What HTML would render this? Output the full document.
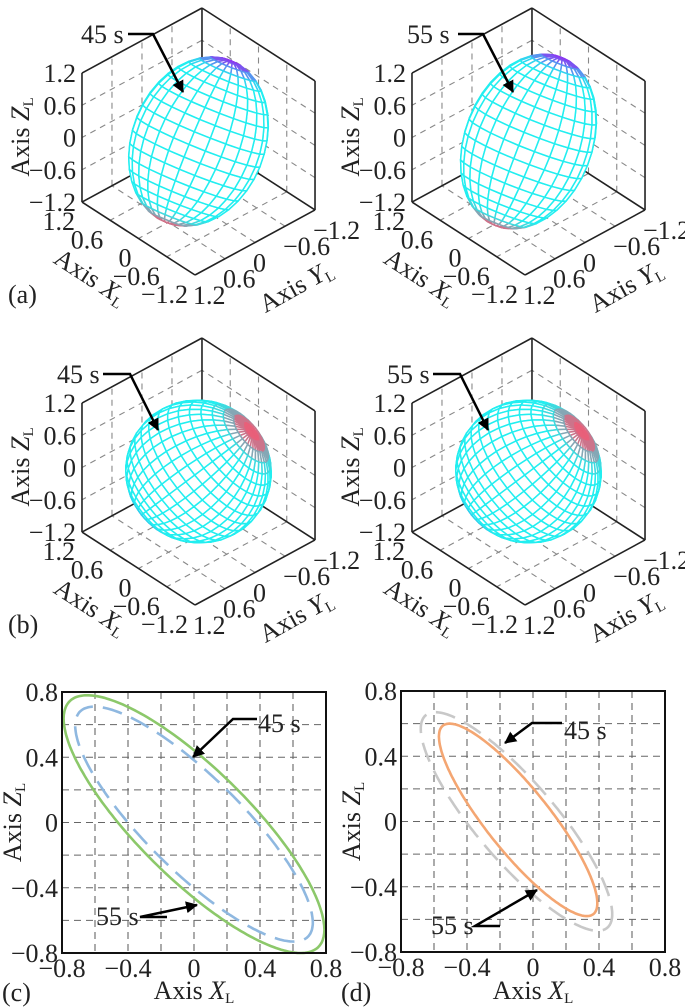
<!DOCTYPE html>
<html><head><meta charset="utf-8">
<style>
html,body{margin:0;padding:0;background:#fff;}
svg{display:block;font-family:"Liberation Serif","Times New Roman",serif;}
</style></head>
<body>
<svg id="fig" width="685" height="1008" viewBox="0 0 685 1008" xmlns="http://www.w3.org/2000/svg"></svg>
<script>
// ---- 3D panel data ----
const panelLabels3d = ['(a)', '', '(b)', ''];
const panelTimes3d = ['45 s', '55 s', '45 s', '55 s'];
const panelOffX = [0, 330, 0, 330];
const panelOffY = [0, 0, 330, 330];
const axisDirX = [0.1, 0.1, -0.5, -0.5];
const axisDirY = [-0.6, -0.6, -0.6, -0.6];
const axisDirZ = [0.8, 0.84, 0.73, 0.73];
const semiPolar = [1.3, 1.35, 1.06, 1.06];
const semiEquat = [0.97, 0.93, 1.06, 1.06];
const poleColorPos = ['#8a3cf0', '#8a3cf0', '#e8607a', '#e8607a'];
const poleColorNeg = ['#e8607a', '#e8607a', '#4a5ae0', '#4a5ae0'];
const tickVals3d = [1.2, 0.6, 0, -0.6, -1.2];
const tickText3d = ['1.2', '0.6', '0', '\u22120.6', '\u22121.2'];
// ---- 2D panel data ----
const ticks2d = [-0.8, -0.4, 0, 0.4, 0.8];
const tickText2d = ['\u22120.8', '\u22120.4', '0', '0.4', '0.8'];
const gridVals2d = [-0.6, -0.4, -0.2, 0, 0.2, 0.4, 0.6];
// ellipses: x = cx + wx cos t ; z = cz + wz cos(t + phi)
const ellPanel = [0, 0, 1, 1];
const ellCx = [0, 0, -0.1, -0.09];
const ellCz = [-0.01, -0.01, 0.0, 0.01];
const ellWx = [0.79, 0.72, 0.58, 0.48];
const ellWz = [0.79, 0.72, 0.67, 0.59];
const ellPhiDeg = [145, 147, 148, 150];
const ellColor = ['#8cc86a', '#8fb8e0', '#c8c8c8', '#f4a672'];
const ellDash = ['', '20 10', '20 10', ''];

const NS = 'http://www.w3.org/2000/svg';
const svg = document.getElementById('fig');
function mk(tag, attrs, parent) {
  const e = document.createElementNS(NS, tag);
  for (const k in attrs) e.setAttribute(k, attrs[k]);
  (parent || svg).appendChild(e);
  return e;
}
function label(parent, x, y, main, sub, opts) {
  const t = mk('text', Object.assign({x: x, y: y, 'font-size': 26, fill: '#222'}, opts || {}), parent);
  t.appendChild(document.createTextNode(main));
  if (sub) {
    const it = mk('tspan', {'font-style': 'italic'}, t); it.textContent = sub[0];
    const s = mk('tspan', {'font-size': 15, dy: 4}, t); s.textContent = 'L';
  }
  return t;
}
function mix(c1, c2, f) {
  const a = [1,3,5].map(i => parseInt(c1.substr(i,2),16));
  const b = [1,3,5].map(i => parseInt(c2.substr(i,2),16));
  return 'rgb(' + a.map((v,i) => Math.round(v + (b[i]-v)*f)).join(',') + ')';
}
(function arrowDef() {
  const defs = mk('defs', {});
  const m = mk('marker', {id: 'ah', markerWidth: 12, markerHeight: 12, refX: 11, refY: 6, orient: 'auto', markerUnits: 'userSpaceOnUse'}, defs);
  mk('path', {d: 'M0,0 L12,6 L0,12 Z', fill: '#000'}, m);
})();

function draw3d(i) {
  const ox = panelOffX[i], oy = panelOffY[i];
  const g = mk('g', {});
  
  
  const P = (x, y, z) => [ox + 198.5 - 47.1 * x - 50 * y, oy + 141.5 - 30.4 * x + 27.1 * y - 53.75 * z];
  const line = (a, b, attrs) => mk('line', Object.assign({x1: a[0], y1: a[1], x2: b[0], y2: b[1]}, attrs), g);
  const gridA = {stroke: '#888', 'stroke-width': 1.1, 'stroke-dasharray': '6 5'};
  [-0.6, 0, 0.6].forEach(v => {
    line(P(1.2, v, -1.2), P(1.2, v, 1.2), gridA);
    line(P(1.2, -1.2, v), P(1.2, 1.2, v), gridA);
    line(P(v, -1.2, -1.2), P(v, -1.2, 1.2), gridA);
    line(P(-1.2, -1.2, v), P(1.2, -1.2, v), gridA);
    line(P(v, -1.2, -1.2), P(v, 1.2, -1.2), gridA);
    line(P(-1.2, v, -1.2), P(1.2, v, -1.2), gridA);
  });
  const sol = {stroke: '#222', 'stroke-width': 1.6};
  line(P(1.2, 1.2, 1.2), P(1.2, -1.2, 1.2), sol);
  line(P(1.2, -1.2, 1.2), P(-1.2, -1.2, 1.2), sol);
  line(P(1.2, 1.2, -1.2), P(1.2, 1.2, 1.2), sol);
  line(P(-1.2, -1.2, -1.2), P(-1.2, -1.2, 1.2), sol);
  line(P(1.2, -1.2, -1.2), P(1.2, -1.2, 1.2), sol);
  line(P(1.2, 1.2, -1.2), P(1.2, -1.2, -1.2), sol);
  line(P(1.2, -1.2, -1.2), P(-1.2, -1.2, -1.2), sol);
  line(P(1.2, 1.2, -1.2), P(-1.2, 1.2, -1.2), sol);
  line(P(-1.2, 1.2, -1.2), P(-1.2, -1.2, -1.2), sol);
  // ellipsoid
  let u = [axisDirX[i], axisDirY[i], axisDirZ[i]];
  const L = Math.hypot(u[0], u[1], u[2]); u = u.map(v => v / L);
  let t = Math.abs(u[0]) < 0.9 ? [1, 0, 0] : [0, 1, 0];
  const dot = (a, b) => a[0]*b[0] + a[1]*b[1] + a[2]*b[2];
  let e1 = t.map((v, k) => v - dot(t, u) * u[k]);
  const l1 = Math.hypot(e1[0], e1[1], e1[2]); e1 = e1.map(v => v / l1);
  const e2 = [u[1]*e1[2] - u[2]*e1[1], u[2]*e1[0] - u[0]*e1[2], u[0]*e1[1] - u[1]*e1[0]];
  const c = semiPolar[i], r = semiEquat[i];
  const nLat = 20, nLon = i >= 2 ? 36 : 24;
  const pt = (la, lo) => {
    const s = Math.sin(la), co = Math.cos(la);
    return [0, 1, 2].map(k => u[k] * c * s + r * co * (Math.cos(lo) * e1[k] + Math.sin(lo) * e2[k]));
  };
  const w = [-0.56, 0.53, 0.59];
  const quads = [];
  for (let a = 0; a < nLat; a++) {
    const la0 = -Math.PI / 2 + Math.PI * a / nLat, la1 = -Math.PI / 2 + Math.PI * (a + 1) / nLat;
    for (let b = 0; b < nLon; b++) {
      const lo0 = 2 * Math.PI * b / nLon, lo1 = 2 * Math.PI * (b + 1) / nLon;
      const ps = [pt(la0, lo0), pt(la0, lo1), pt(la1, lo1), pt(la1, lo0)];
      const cen = [0, 1, 2].map(k => (ps[0][k] + ps[1][k] + ps[2][k] + ps[3][k]) / 4);
      quads.push({ps: ps, d: dot(cen, w), lat: (la0 + la1) / 2});
    }
  }
  quads.sort((p, q) => p.d - q.d);
  const eg = mk('g', {}, g);
  
  
  quads.forEach(q => {
    const deg = q.lat * 180 / Math.PI;
    let col = '#22eef0';
    if (deg > 55) col = mix('#22eef0', poleColorPos[i], Math.min(1, (deg - 55) / 25));
    if (deg < -55) col = mix('#22eef0', poleColorNeg[i], Math.min(1, (-deg - 55) / 25));
    const pts = q.ps.map(p => P(p[0], p[1], p[2]).map(v => v.toFixed(1)).join(',')).join(' ');
    mk('polygon', {points: pts, fill: '#fff', stroke: col, 'stroke-width': 1.5, 'stroke-linejoin': 'round'}, eg);
  });
  tickVals3d.forEach((v, k) => {
    const pz = P(1.2, 1.2, v);
    const tz = label(g, pz[0] - 6, pz[1] + 9, tickText3d[k], null, {'text-anchor': 'end'});
    
    
    const px = P(v, 1.2, -1.2);
    const tx = label(g, px[0] - 7, px[1] + 28, tickText3d[k], null, {'text-anchor': 'end'});
    
    
    const py = P(-1.2, v, -1.2);
    const ty = label(g, py[0] - 2, py[1] + 29, tickText3d[k], null, {'text-anchor': 'start'});
    
    
  });
  const az = label(g, 0, 0, 'Axis ', 'Z', {'text-anchor': 'middle', transform: 'translate(' + (ox + 29) + ',' + (oy + 137) + ') rotate(-90)'});
  
  
  const ax = label(g, 0, 0, 'Axis ', 'X', {'text-anchor': 'middle', transform: 'translate(' + (ox + 86) + ',' + (oy + 284) + ') rotate(33)'});
  
  
  const ay = label(g, 0, 0, 'Axis ', 'Y', {'text-anchor': 'middle', transform: 'translate(' + (ox + 300) + ',' + (oy + 294) + ') rotate(-29)'});
  
  
  if (panelLabels3d[i]) {
    const pl = label(g, ox + 8, oy + 303, panelLabels3d[i], null, {});
    
    
  }
  const row = i >= 2;
  const tx0 = row ? 57 : 81, tby = row ? 53 : 43;
  const lx0 = row ? 103 : 128, lx1 = row ? 130 : 153, ly = row ? 44 : 34;
  const tipx = row ? 158 : 183, tipy = row ? 100 : 92;
  const at = label(g, ox + tx0 + (i === 1 ? -4 : 0), oy + tby, panelTimes3d[i], null, {});
  
  
  const ap = mk('polyline', {points: (ox+lx0)+','+(oy+ly)+' '+(ox+lx1)+','+(oy+ly)+' '+(ox+tipx)+','+(oy+tipy), fill: 'none', stroke: '#000', 'stroke-width': 2.5, 'marker-end': 'url(#ah)'}, g);
  
  
}
for (let i = 0; i < 4; i++) draw3d(i);

// ---- 2D panels ----
const boxL = [62, 401], boxR = [326, 665], boxT = [692, 691], boxB = [953, 952];
const panelLabels2d = ['(c)', '(d)'];
const ann45 = [[258, 732, 233, 257, 719, 193, 757], [564, 739, 532, 562, 723, 505, 743]];
const ann55 = [[96, 925, 140, 167, 917, 197, 905], [431, 934, 475, 500, 926, 537, 890]];
function draw2d(p) {
  const g = mk('g', {});
  
  
  const L = boxL[p], R = boxR[p], T = boxT[p], B = boxB[p];
  const sx = v => L + (v + 0.8) / 1.6 * (R - L);
  const sy = v => B - (v + 0.8) / 1.6 * (B - T);
  gridVals2d.forEach(v => {
    mk('line', {x1: sx(v), y1: T, x2: sx(v), y2: B, stroke: '#666', 'stroke-width': 1.1, 'stroke-dasharray': '7 5'}, g);
    mk('line', {x1: L, y1: sy(v), x2: R, y2: sy(v), stroke: '#666', 'stroke-width': 1.1, 'stroke-dasharray': '7 5'}, g);
  });
  for (let e = 0; e < ellCx.length; e++) {
    if (ellPanel[e] !== p) continue;
    const ph = ellPhiDeg[e] * Math.PI / 180;
    const pts = [];
    for (let k = 0; k <= 240; k++) {
      const t = 2 * Math.PI * k / 240;
      pts.push(sx(ellCx[e] + ellWx[e] * Math.cos(t)).toFixed(1) + ',' + sy(ellCz[e] + ellWz[e] * Math.cos(t + ph)).toFixed(1));
    }
    const pl = mk('polyline', {points: pts.join(' '), fill: 'none', stroke: ellColor[e], 'stroke-width': 2.6}, g);
    if (ellDash[e]) pl.setAttribute('stroke-dasharray', ellDash[e]);
    
    
  }
  mk('rect', {x: L, y: T, width: R - L, height: B - T, fill: 'none', stroke: '#111', 'stroke-width': 2}, g);
  ticks2d.forEach((v, k) => {
    const tx = label(g, sx(v), B + 24, tickText2d[k], null, {'text-anchor': 'middle'});
    
    
    const ty = label(g, L - 4, sy(v) + 9, tickText2d[k], null, {'text-anchor': 'end'});
    
    
  });
  const xt = label(g, (L + R) / 2, 999, 'Axis ', 'X', {'text-anchor': 'middle'});
  
  
  const yt = label(g, 0, 0, 'Axis ', 'Z', {'text-anchor': 'middle', transform: 'translate(' + (L - 41) + ',' + ((T + B) / 2) + ') rotate(-90)'});
  
  
  const pl = label(g, L - 60, 1001, panelLabels2d[p], null, {});
  
  
  [[ann45[p], '45 s'], [ann55[p], '55 s']].forEach(a => {
    const d = a[0];
    const t = label(g, d[0], d[1], a[1], null, {});
    
    
    const ar = mk('polyline', {points: d[3]+','+d[4]+' '+d[2]+','+d[4]+' '+d[5]+','+d[6], fill: 'none', stroke: '#000', 'stroke-width': 2.5, 'marker-end': 'url(#ah)'}, g);
    
    
  });
}
draw2d(0); draw2d(1);
</script>
</body></html>
